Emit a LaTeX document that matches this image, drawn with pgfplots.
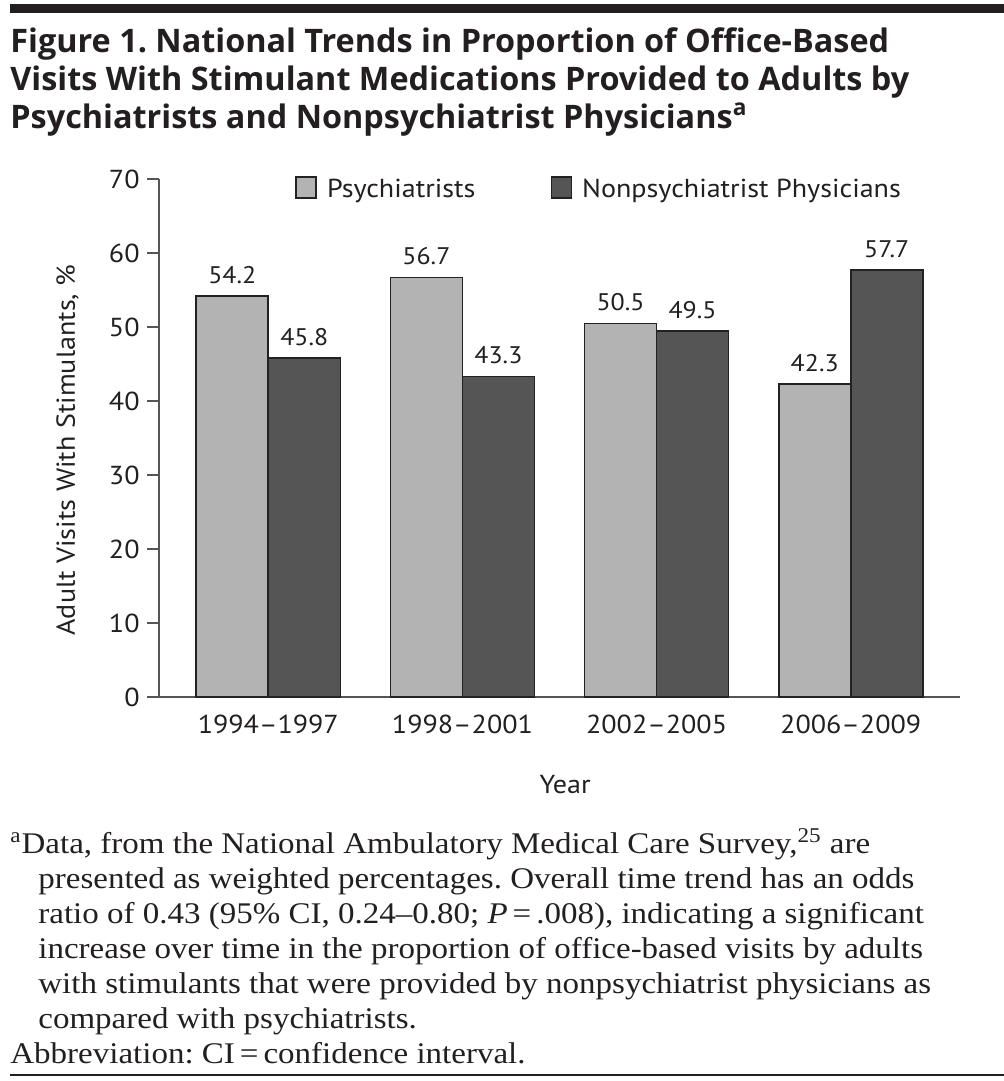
\documentclass[border=0pt]{standalone}
\usepackage{fontspec}
\usepackage{pgfplots}
\pgfplotsset{compat=1.18}
\setmainfont{PT Sans}[FakeStretch=1.08]
\newfontfamily\titlefont{Open Sans}
\newfontfamily\notefont{Liberation Serif}[FakeStretch=1.1]

\definecolor{txt}{HTML}{231F20}
\definecolor{lightbar}{HTML}{B3B3B3}
\definecolor{darkbar}{HTML}{555555}
\definecolor{edge}{HTML}{222222}
\definecolor{axisgray}{HTML}{555555}

\begin{document}
\frenchspacing
\begin{tikzpicture}[color=txt]
\path[use as bounding box] (0,0) rectangle (502pt,-540.5pt);

% heavy rule and title
\fill[txt] (5pt,-2pt) rectangle (502pt,-6.5pt);
\begin{scope}[every node/.style={anchor=base west, inner sep=0pt,
    font=\titlefont\bfseries\fontsize{16.2}{19}\selectfont}]
\node at (5pt,-26.25pt) {Figure 1. National Trends in Proportion of Office-Based};
\node at (5pt,-45.25pt) {Visits With Stimulant Medications Provided to Adults by};
\node at (5pt,-64.25pt) {Psychiatrists and Nonpsychiatrist Physicians\textsuperscript{a}};
\end{scope}

\begin{axis}[
    at={(79.5pt,-348.5pt)}, anchor=south west,
    scale only axis, width=400.5pt, height=259pt,
    font=\fontsize{13}{15}\selectfont,
    /pgf/number format/assume math mode=true,
    ybar=0pt, bar width=36pt,
    xmin=-0.563, xmax=3.563, ymin=0, ymax=70,
    xtick={0,1,2,3},
    xticklabels={1994–1997, 1998–2001, 2002–2005, 2006–2009},
    ytick={0,10,...,70},
    axis x line=bottom, axis y line=left,
    axis line style={-, draw=axisgray, line width=0.8pt},
    tick align=outside, major tick length=6pt,
    xtick style={draw=none},
    ytick style={draw=axisgray, line width=0.8pt},
    xticklabel style={anchor=north, inner sep=0pt, yshift=-3pt},
    yticklabel style={anchor=east, inner sep=0pt, xshift=-3.5pt},
    every axis y label/.style={at={(axis description cs:-0.1049,0.4768)},
        rotate=90, anchor=base, inner sep=0pt},
    every axis x label/.style={at={(axis description cs:0.507,-0.187)},
        anchor=base, inner sep=0pt},
    ylabel={Adult Visits With Stimulants, \%},
    xlabel={Year},
    nodes near coords,
    nodes near coords style={font=\fontsize{12}{14}\selectfont,
        anchor=base, inner sep=0pt, yshift=6.3pt,
        /pgf/number format/fixed, /pgf/number format/precision=1,
        /pgf/number format/fixed zerofill},
    legend columns=2,
    legend style={draw=none, fill=none, inner sep=0pt,
        at={(axis description cs:0.1698,0.9614)}, anchor=south west,
        cells={anchor=base west},
        nodes={inner sep=0pt, text depth=0pt},
        /tikz/every odd column/.append style={column sep=5pt},
        /tikz/every even column/.append style={column sep=37.5pt}},
    legend image code/.code={\draw[#1] (0pt,0pt) rectangle (10pt,10.5pt);},
    clip=false,
]
\addplot[fill=lightbar, draw=edge, line width=0.8pt]
    coordinates {(0,54.2) (1,56.7) (2,50.5) (3,42.3)};
\addlegendentry{Psychiatrists}
\addplot[fill=darkbar, draw=edge, line width=0.8pt]
    coordinates {(0,45.8) (1,43.3) (2,49.5) (3,57.7)};
\addlegendentry{Nonpsychiatrist Physicians}
\end{axis}

% footnote
\begin{scope}[every node/.style={anchor=base west, inner sep=0pt,
    font=\notefont\fontsize{15}{17.5}\selectfont}]
\node at (5pt,-426.5pt) {\textsuperscript{a}Data, from the National Ambulatory Medical Care Survey,\textsuperscript{25} are};
\node at (19pt,-444pt) {presented as weighted percentages. Overall time trend has an odds};
\node at (19pt,-461.5pt) {ratio of 0.43 (95\% CI, 0.24–0.80; \textit{P}\,=\,.008), indicating a significant};
\node at (19pt,-479pt) {increase over time in the proportion of office-based visits by adults};
\node at (19pt,-496.5pt) {with stimulants that were provided by nonpsychiatrist physicians as};
\node at (19pt,-514pt) {compared with psychiatrists.};
\node at (5pt,-531.5pt) {Abbreviation: CI\,=\,confidence interval.};
\end{scope}
\fill[txt] (5pt,-537pt) rectangle (502pt,-538.2pt);
\end{tikzpicture}
\end{document}
